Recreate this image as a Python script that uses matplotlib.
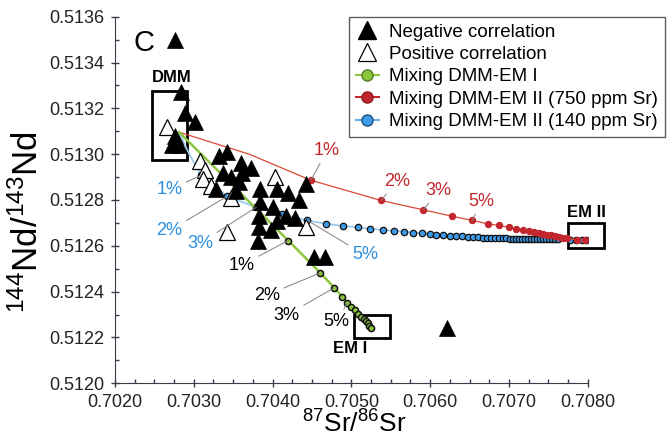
import matplotlib
matplotlib.use("Agg")
import matplotlib.pyplot as plt
from matplotlib.lines import Line2D
from matplotlib.patches import Rectangle
from matplotlib.ticker import MultipleLocator, FormatStrFormatter

plt.rcParams['font.family'] = ['Liberation Sans', 'DejaVu Sans']
plt.rcParams['mathtext.default'] = 'regular'

# samples, 87Sr/86Sr vs 144Nd/143Nd
neg_sr = [0.70276, 0.70284, 0.70289, 0.70302, 0.70276, 0.70272, 0.70281, 0.70332, 0.70342,
          0.70360, 0.70373, 0.70337, 0.70347, 0.70361, 0.70358, 0.70354, 0.70328, 0.70384,
          0.70406, 0.70420, 0.70442, 0.70433, 0.70384, 0.70401, 0.70417, 0.70428, 0.70383,
          0.70405, 0.70383, 0.70398, 0.70382, 0.70453, 0.70466, 0.70622]
neg_nd = [0.51350, 0.51327, 0.51318, 0.51314, 0.51308, 0.51304, 0.51304, 0.51299, 0.51301,
          0.51296, 0.51294, 0.51292, 0.51290, 0.51292, 0.51288, 0.51284, 0.51285, 0.51285,
          0.51285, 0.51283, 0.51287, 0.51280, 0.51279, 0.51277, 0.51273, 0.51272, 0.51273,
          0.51271, 0.51268, 0.51267, 0.51262, 0.51255, 0.51255, 0.51224]
pos_sr = [0.70266, 0.70308, 0.70314, 0.70312, 0.70322, 0.70347, 0.70403, 0.70342, 0.70443]
pos_nd = [0.51312, 0.51297, 0.51293, 0.51289, 0.51286, 0.51281, 0.51290, 0.51266, 0.51268]

# mixing DMM-EM I (0%, 1%, 2%, ...)
em1_sr = [0.702814, 0.704199, 0.704606, 0.704784, 0.704885, 0.704949, 0.705000, 0.705051,
          0.705089, 0.705127, 0.705159, 0.705184, 0.705210, 0.705229, 0.705248]
em1_nd = [0.513096, 0.512623, 0.512482, 0.512417, 0.512377, 0.512351, 0.512333, 0.512318,
          0.512303, 0.512289, 0.512279, 0.512270, 0.512261, 0.512252, 0.512243]

# mixing DMM-EM II 750 ppm Sr (0%, 0.5%, 1%, 2%, ...)
em2a_sr = [0.702814, 0.703703, 0.704488, 0.705377, 0.705915, 0.706280, 0.706534, 0.706733,
           0.706872, 0.706999, 0.707093, 0.707177, 0.707250, 0.707313, 0.707377, 0.707428,
           0.707479, 0.707529, 0.707580, 0.707631, 0.707682, 0.707733, 0.707860, 0.707962]
em2a_nd = [0.513096, 0.513000, 0.512886, 0.512798, 0.512757, 0.512729, 0.512711, 0.512696,
           0.512689, 0.512681, 0.512674, 0.512670, 0.512664, 0.512660, 0.512656, 0.512652,
           0.512649, 0.512646, 0.512643, 0.512639, 0.512636, 0.512632, 0.512627, 0.512625]

# mixing DMM-EM II 140 ppm Sr (0%, 0.5%, 1%, 2%, ...)
em2b_sr = [0.702814, 0.702928, 0.703093, 0.703424, 0.703792, 0.704123, 0.704441, 0.704678,
           0.704889, 0.705080, 0.705237, 0.705398, 0.705547, 0.705674, 0.705788, 0.705899,
           0.705992, 0.706077, 0.706161, 0.706246, 0.706331, 0.706407, 0.706479, 0.706545,
           0.706608, 0.706666, 0.706723, 0.706774, 0.706825, 0.706876, 0.706920, 0.706965,
           0.707009, 0.707047, 0.707085, 0.707123, 0.707161, 0.707199, 0.707237, 0.707276,
           0.707314, 0.707352, 0.707390, 0.707428, 0.707466, 0.707504, 0.707542, 0.707580,
           0.707618, 0.707780, 0.707856, 0.707932, 0.707983]
em2b_nd = [0.513096, 0.513009, 0.512908, 0.512816, 0.512768, 0.512737, 0.512711, 0.512696,
           0.512687, 0.512681, 0.512674, 0.512670, 0.512665, 0.512662, 0.512658, 0.512655,
           0.512652, 0.512649, 0.512648, 0.512645, 0.512644, 0.512642, 0.512640, 0.512639,
           0.512638, 0.512636, 0.512636, 0.512635, 0.512634, 0.512633, 0.512632, 0.512632,
           0.512631, 0.512631, 0.512630, 0.512630, 0.512630, 0.512630, 0.512629, 0.512629,
           0.512629, 0.512629, 0.512628, 0.512628, 0.512628, 0.512628, 0.512628, 0.512628,
           0.512628, 0.512627, 0.512627, 0.512627, 0.512627]

RED = '#c1272d'
BLUE = '#2b8fe0'
GREEN = '#8cc63f'

fig = plt.figure(figsize=(6.67, 4.40), dpi=100)
ax = fig.add_axes([115 / 667, 1 - 383.3 / 440, 472.7 / 667, 366.6 / 440])

# mixing curves
ax.plot(em2b_sr, em2b_nd, color='#9ccbef', lw=1.3, zorder=2)
ax.plot(em2b_sr[2:], em2b_nd[2:], ls='none', marker='o', ms=4.6, mfc='#3d9be9', mec='#111111',
        mew=0.9, zorder=2.1)
ax.plot(em2a_sr, em2a_nd, color='#d94a33', lw=0.9, zorder=2.2)
ax.plot(em2a_sr[2:], em2a_nd[2:], ls='none', marker='o', ms=4.3, mfc=RED, mec=RED, zorder=2.3)
ax.plot(em1_sr, em1_nd, color=GREEN, lw=1.8, zorder=2.4)
ax.plot(em1_sr[1:], em1_nd[1:], ls='none', marker='o', ms=4.4, mfc=GREEN, mec='#111111',
        mew=1.1, zorder=2.5)

# end-member boxes
boxes = [((0.702470, 0.512975), 0.000444, 0.000301),
         ((0.705034, 0.512196), 0.000457, 0.000102),
         ((0.707754, 0.512589), 0.000453, 0.000109)]
for (x0, y0), w, h in boxes:
    ax.add_patch(Rectangle((x0, y0), w, h, fill=False, ec='black', lw=2, clip_on=False, zorder=1.5))

ax.text(0.702724, 0.513333, 'DMM', fontsize=12, fontweight='bold', ha='center', va='center')
ax.text(0.704983, 0.512150, 'EM I', fontsize=12, fontweight='bold', ha='center', va='center')
ax.text(0.707979, 0.512746, 'EM II', fontsize=12, fontweight='bold', ha='center', va='center')
ax.text(0.702368, 0.513485, 'C', fontsize=21, ha='center', va='center')

# samples
ax.plot(pos_sr, pos_nd, ls='none', marker='^', ms=11.5, mfc='white', mec='black', mew=0.9, zorder=3)
ax.plot(neg_sr, neg_nd, ls='none', marker='^', ms=11.5, mfc='black', mec='black', mew=0.5, zorder=3.1)

# percentage labels with leader lines
leader = dict(arrowstyle='-', color='#808080', lw=0.7, shrinkA=1, shrinkB=0)
red_labels = [('1%', 2, (0.704687, 0.513015)), ('2%', 3, (0.705576, 0.512880)),
              ('3%', 4, (0.706104, 0.512841)), ('5%', 6, (0.706655, 0.512793))]
for t, i, pos in red_labels:
    ax.annotate(t, (em2a_sr[i], em2a_nd[i]), xytext=pos, color=RED, fontsize=13,
                ha='center', va='center', arrowprops=leader, zorder=4)
blue_labels = [('1%', 2, (0.702689, 0.512844)), ('2%', 3, (0.702689, 0.512666)),
               ('3%', 4, (0.703079, 0.512611)), ('5%', 6, (0.705173, 0.512560))]
for t, i, pos in blue_labels:
    ax.annotate(t, (em2b_sr[i], em2b_nd[i]), xytext=pos, color=BLUE, fontsize=13,
                ha='center', va='center', arrowprops=leader, zorder=4)
black_labels = [('1%', 1, (0.703608, 0.512516)), ('2%', 2, (0.703926, 0.512385)),
                ('3%', 3, (0.704180, 0.512298)), ('5%', 5, (0.704814, 0.512269))]
for t, i, pos in black_labels:
    ax.annotate(t, (em1_sr[i], em1_nd[i]), xytext=pos, color='black', fontsize=13,
                ha='center', va='center', arrowprops=leader, zorder=4)

# axes
ax.set_xlim(0.7020, 0.7080)
ax.set_ylim(0.5120, 0.5136)
ax.xaxis.set_major_locator(MultipleLocator(0.001))
ax.xaxis.set_minor_locator(MultipleLocator(0.00025))
ax.yaxis.set_major_locator(MultipleLocator(0.0002))
ax.yaxis.set_minor_locator(MultipleLocator(0.0001))
ax.xaxis.set_major_formatter(FormatStrFormatter('%.4f'))
ax.yaxis.set_major_formatter(FormatStrFormatter('%.4f'))
for s in ['top', 'right']:
    ax.spines[s].set_visible(False)
for s in ['left', 'bottom']:
    ax.spines[s].set_color('#3a3a48')
ax.tick_params(which='major', direction='inout', length=6, width=1, colors='#3a3a48',
               labelsize=13, labelcolor='#222222', pad=5)
ax.tick_params(which='minor', direction='in', length=3, width=1, colors='#3a3a48')

fig.text(354 / 667, 1 - 433 / 440, r'$^{87}$Sr/$^{86}$Sr', fontsize=19, ha='center', va='baseline')
fig.text(28 / 667, 1 - 222 / 440, r'$^{144}$Nd/$^{143}$Nd', fontsize=25, rotation=90,
         ha='center', va='center')

handles = [
    Line2D([], [], ls='none', marker='^', ms=12.5, mfc='black', mec='black'),
    Line2D([], [], ls='none', marker='^', ms=12.5, mfc='white', mec='black', mew=0.9),
    Line2D([], [], color=GREEN, lw=1.5, marker='o', ms=8, mfc=GREEN, mec='#4f7a22'),
    Line2D([], [], color=RED, lw=1.5, marker='o', ms=8, mfc=RED, mec='#8a1a1a'),
    Line2D([], [], color='#6ab0e8', lw=1.5, marker='o', ms=8, mfc='#3d9be9', mec='#1e4f7a'),
]
labels = ['Negative correlation', 'Positive correlation', 'Mixing DMM-EM I',
          'Mixing DMM-EM II (750 ppm Sr)', 'Mixing DMM-EM II (140 ppm Sr)']
leg = fig.legend(handles, labels, loc='upper left', bbox_to_anchor=(349 / 667, 1 - 17 / 440),
                 fontsize=13.5, frameon=True, fancybox=False, edgecolor='#333333',
                 handlelength=1.25, handletextpad=0.55, borderpad=0.35, labelspacing=0.28,
                 borderaxespad=0)
leg.get_frame().set_linewidth(1)

fig.savefig('out.png', dpi=100)
